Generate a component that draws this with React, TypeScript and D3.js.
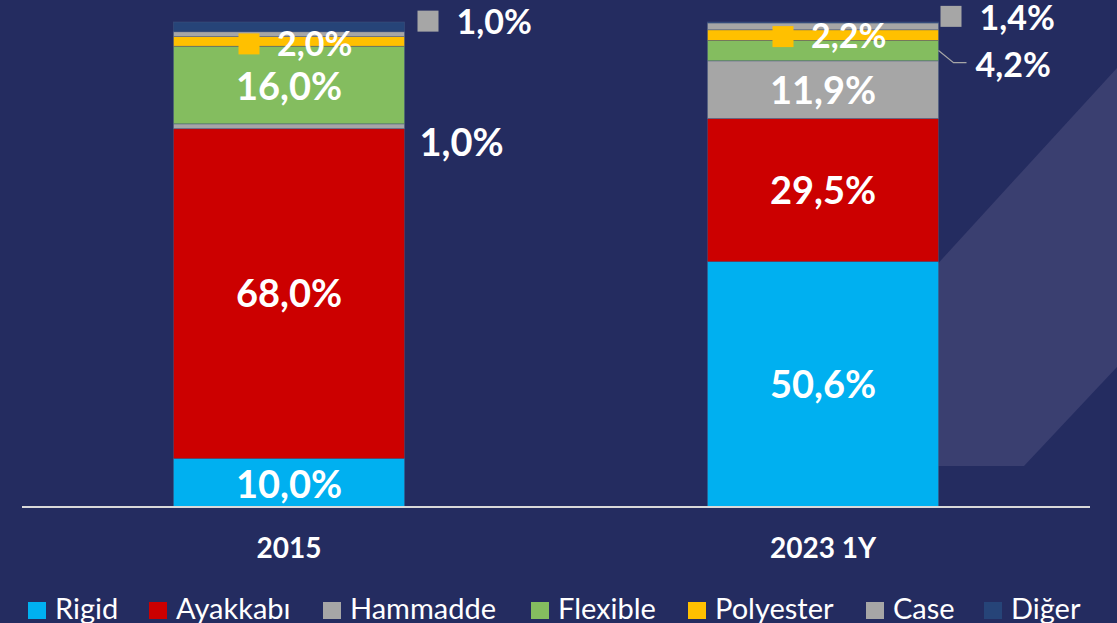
import React from "react";
import * as d3 from "d3";

// ---- data ----
const categories = ["2015", "2023 1Y"];
const seriesNames = ["Rigid", "Ayakkabı", "Hammadde", "Flexible", "Polyester", "Case", "Diğer"];
const seriesColors = ["#00B0F0", "#CC0000", "#A6A6A6", "#84BD5F", "#FFC000", "#A6A6A6", "#264478"];
const values2015 = [10.0, 68.0, 1.0, 16.0, 2.0, 1.0, 2.0];
const values2023 = [50.6, 29.5, 11.9, 4.2, 2.2, 1.4, 0.2];
const yDomain = [0, 100];

// label layout: mode per series per category
type LabelMode = { mode: string; dx?: number; dy?: number; key?: boolean; leader?: boolean; small?: boolean };
const labelLayout2015: LabelMode[] = [
  { mode: "in", dy: 2 },
  { mode: "in" },
  { mode: "out", dx: 15, dy: 16 },
  { mode: "in", dy: 1 },
  { mode: "key", dy: 2, small: true },
  { mode: "out", dx: 13, dy: -12, key: true, small: true },
  { mode: "none" },
];
const labelLayout2023: LabelMode[] = [
  { mode: "in" },
  { mode: "in" },
  { mode: "in", dy: 1 },
  { mode: "out", dx: 37, dy: 14, leader: true, small: true },
  { mode: "key", dy: 1, small: true },
  { mode: "out", dx: 2, dy: -9, key: true, small: true },
  { mode: "none" },
];

const W = 1117;
const H = 623;
const FONT = "Lato, 'Open Sans', sans-serif";
const fmt = (v: number) => d3.format(".1f")(v).replace(".", ",") + "%";

export default function App() {
  const x = d3
    .scaleBand<string>()
    .domain(categories)
    .range([22, 1090])
    .paddingInner(0.5674)
    .paddingOuter(0.2837);
  const y = d3.scaleLinear().domain(yDomain).range([507, 22]);

  const table = categories.map((c, i) => {
    const row: any = { cat: c };
    const vals = i === 0 ? values2015 : values2023;
    seriesNames.forEach((s, j) => (row[s] = vals[j]));
    return row;
  });
  const stacked = d3.stack<any>().keys(seriesNames)(table);
  const layouts = [labelLayout2015, labelLayout2023];
  const bw = x.bandwidth();

  const legendX = [28, 149, 323, 531, 688, 866, 984];

  return (
    <svg
      width={W}
      height={H}
      style={{ position: "absolute", left: 0, top: 0, display: "block" }}
      fontFamily={FONT}
    >
      <rect x={0} y={0} width={W} height={H} fill="#242C60" />
      {/* decorative background shape */}
      <polygon points="900,305 1117,68 1117,367 1024,466 900,466" fill="#3A3F70" />

      {/* bars */}
      {stacked.map((layer, si) =>
        layer.map((d, ci) => {
          const cat = categories[ci];
          const y0 = y(d[0]);
          const y1 = y(d[1]);
          return (
            <rect
              key={`${si}-${ci}`}
              x={x(cat)}
              y={y1}
              width={bw}
              height={Math.max(0, y0 - y1)}
              fill={seriesColors[si]}
              stroke="rgba(70,90,130,0.55)"
              strokeWidth={0.8}
            />
          );
        })
      )}

      {/* axis line */}
      <line x1={22} x2={1090} y1={y(0)} y2={y(0)} stroke="#D9D9D9" strokeWidth={2} />

      {/* category labels */}
      {categories.map((c) => (
        <text
          key={c}
          x={(x(c) as number) + bw / 2}
          y={558}
          textAnchor="middle"
          fill="#FFFFFF"
          fontWeight={700}
          fontSize={28}
        >
          {c}
        </text>
      ))}

      {/* data labels */}
      {stacked.map((layer, si) =>
        layer.map((d, ci) => {
          const cat = categories[ci];
          const L = layouts[ci][si];
          if (L.mode === "none") return null;
          const v = d.data[seriesNames[si]];
          const cy = (y(d[0]) + y(d[1])) / 2 + (L.dy || 0);
          const fs = L.small ? 34 : 38;
          const cx = (x(cat) as number) + bw / 2;
          const right = (x(cat) as number) + bw;
          if (L.mode === "in") {
            return (
              <text
                key={`l${si}-${ci}`}
                x={cx}
                y={cy}
                dy="0.36em"
                textAnchor="middle"
                fill="#FFFFFF"
                fontWeight={700}
                fontSize={fs}
              >
                {fmt(v)}
              </text>
            );
          }
          if (L.mode === "key") {
            return (
              <g key={`l${si}-${ci}`}>
                <rect x={cx - 50.5} y={cy - 10} width={21} height={21} fill={seriesColors[si]} />
                <text
                  x={cx - 12}
                  y={cy}
                  dy="0.36em"
                  fill="#FFFFFF"
                  fontWeight={700}
                  fontSize={fs}
                >
                  {fmt(v)}
                </text>
              </g>
            );
          }
          // outside
          const tx = right + (L.dx || 0) + (L.key ? 39 : 0);
          return (
            <g key={`l${si}-${ci}`}>
              {L.key && (
                <rect
                  x={right + (L.dx || 0)}
                  y={cy - 11.5}
                  width={21}
                  height={21}
                  fill={seriesColors[si]}
                />
              )}
              {L.leader && (
                <polyline
                  points={`${right},${y(d[1]) + 10} ${right + 15},${cy - 2} ${right + 28},${cy - 2}`}
                  fill="none"
                  stroke="#A6A6A6"
                  strokeWidth={1.2}
                />
              )}
              <text x={tx} y={cy} dy="0.36em" fill="#FFFFFF" fontWeight={700} fontSize={fs}>
                {fmt(v)}
              </text>
            </g>
          );
        })
      )}

      {/* legend */}
      {seriesNames.map((s, i) => (
        <g key={s}>
          <rect x={legendX[i]} y={602} width={18} height={17} fill={seriesColors[i]} />
          <text x={legendX[i] + 27} y={619} fill="#FFFFFF" fontSize={29}>
            {s}
          </text>
        </g>
      ))}
    </svg>
  );
}
